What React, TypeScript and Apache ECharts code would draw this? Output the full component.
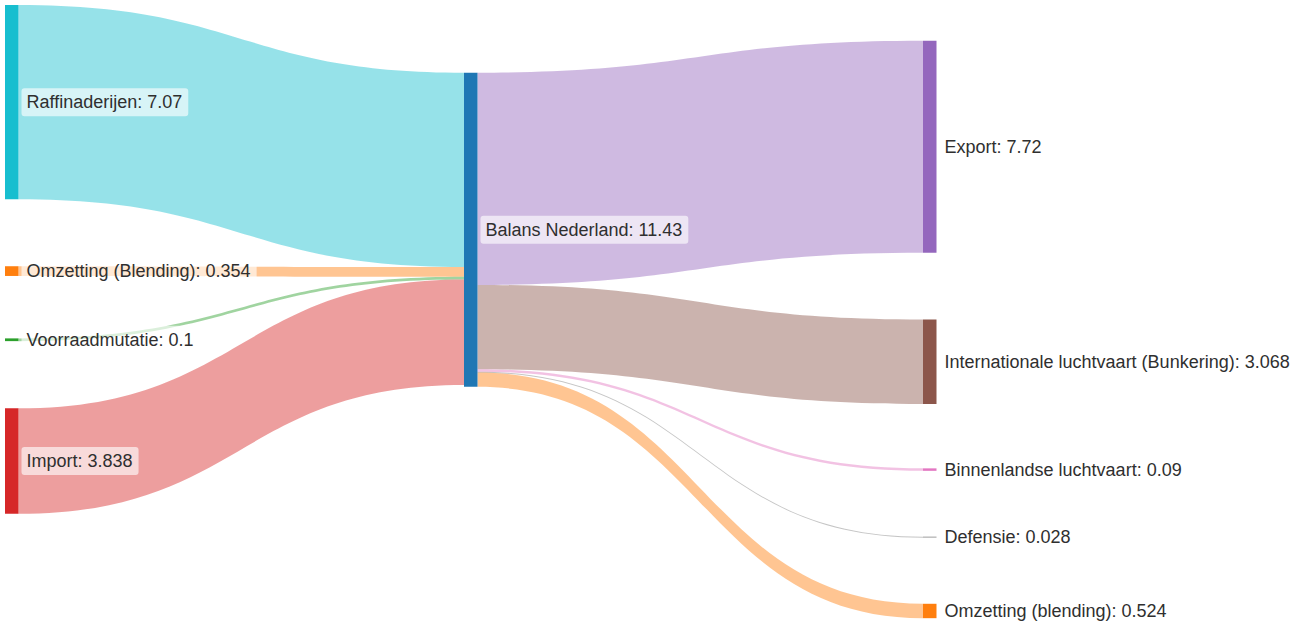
import React, { useEffect, useRef } from "react";
import * as echarts from "echarts";

// ---- data ----
const nodeNames = [
  "Raffinaderijen",
  "Omzetting (Blending)",
  "Voorraadmutatie",
  "Import",
  "Balans Nederland",
  "Export",
  "Internationale luchtvaart (Bunkering)",
  "Binnenlandse luchtvaart",
  "Defensie",
  "Omzetting (blending)",
];
const nodeValues = [7.07, 0.354, 0.1, 3.838, 11.43, 7.72, 3.068, 0.09, 0.028, 0.524];

const linkSources = [
  "Raffinaderijen",
  "Omzetting (Blending)",
  "Voorraadmutatie",
  "Import",
  "Balans Nederland",
  "Balans Nederland",
  "Balans Nederland",
  "Balans Nederland",
  "Balans Nederland",
];
const linkTargets = [
  "Balans Nederland",
  "Balans Nederland",
  "Balans Nederland",
  "Balans Nederland",
  "Export",
  "Internationale luchtvaart (Bunkering)",
  "Binnenlandse luchtvaart",
  "Defensie",
  "Omzetting (blending)",
];
const linkValues = [7.07, 0.354, 0.1, 3.838, 7.72, 3.068, 0.09, 0.028, 0.524];

// ---- styles / layout (not data) ----
const nodeColors = [
  "#17becf",
  "#ff7f0e",
  "#2ca02c",
  "#d62728",
  "#1f77b4",
  "#9467bd",
  "#8c564b",
  "#e377c2",
  "#7f7f7f",
  "#ff7f0e",
];
// relative vertical placement of each node inside the layout box
const nodeLocalY = [0, 0.4265, 0.5443, 0.6585, 0.1106, 0.0583, 0.5136, 0.7565, 0.8681, 0.9776];

function hexToRgba(hex: string, a: number) {
  const n = parseInt(hex.slice(1), 16);
  return `rgba(${(n >> 16) & 255},${(n >> 8) & 255},${n & 255},${a})`;
}

export default function App() {
  const ref = useRef<HTMLDivElement>(null);

  useEffect(() => {
    if (!ref.current) return;
    const chart = echarts.init(ref.current, undefined, { renderer: "svg" });
    const colorOf = (name: string) => nodeColors[nodeNames.indexOf(name)];
    const hub = "Balans Nederland";

    chart.setOption({
      animation: false,
      backgroundColor: "#ffffff",
      series: [
        {
          type: "sankey",
          left: 5,
          top: 5,
          width: 931.5,
          height: 612.5,
          nodeWidth: 13.5,
          nodeGap: 74.6,
          layoutIterations: 0,
          draggable: false,
          emphasis: { disabled: true },
          data: nodeNames.map((name, i) => ({
            name,
            value: nodeValues[i],
            localY: nodeLocalY[i],
            itemStyle: { color: nodeColors[i], borderWidth: 0 },
          })),
          links: linkSources.map((s, i) => {
            const t = linkTargets[i];
            const other = s === hub ? t : s;
            return {
              source: s,
              target: t,
              value: linkValues[i],
              lineStyle: { color: hexToRgba(colorOf(other), 0.45), opacity: 1 },
            };
          }),
          lineStyle: { curveness: 0.5 },
          label: {
            show: true,
            position: "right",
            distance: 3,
            color: "#2f2f2f",
            fontSize: 18,
            fontFamily: "Liberation Sans, Arial, sans-serif",
            padding: [5, 6, 5, 5],
            backgroundColor: "rgba(255,255,255,0.62)",
            borderRadius: 3,
            formatter: (p: any) => `${p.name}: ${nodeValues[nodeNames.indexOf(p.name)]}`,
          },
        },
      ],
    });
    return () => chart.dispose();
  }, []);

  return (
    <div
      ref={ref}
      style={{ position: "absolute", left: 0, top: 0, width: 1309, height: 623 }}
    />
  );
}
